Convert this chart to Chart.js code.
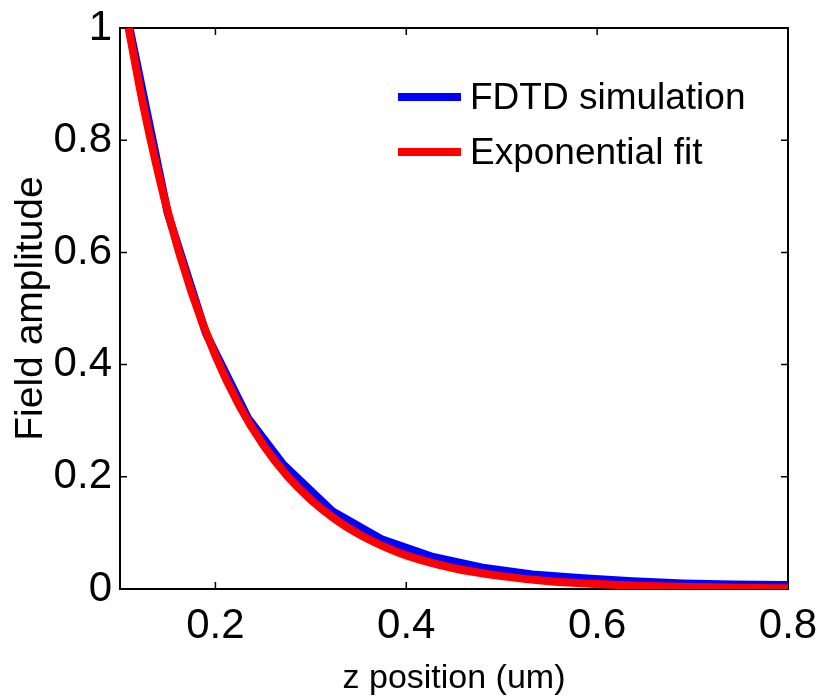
<!doctype html>
<html>
  <head>
    <script src="https://cdn.jsdelivr.net/npm/chart.js"></script>
    <style>
      body { margin: 0; background: white; }
      canvas { display: block; }
    </style>
    <title>Field amplitude</title>
  </head>
  <body>
    <canvas id="drawhere" width="823" height="699"></canvas>
    <script>
      // FDTD simulation (blue)
      var simx = [0.110, 0.150, 0.190, 0.234, 0.271, 0.323, 0.375, 0.428, 0.480, 0.532, 0.585, 0.637, 0.690, 0.742, 0.794, 0.800];
      var simy = [1.000, 0.670, 0.456, 0.305, 0.222, 0.138, 0.088, 0.057, 0.038, 0.026, 0.019, 0.014, 0.010, 0.008, 0.007, 0.007];
      // exponential fit (red)
      var fitx = [0.109, 0.125, 0.150, 0.175, 0.200, 0.225, 0.250, 0.275, 0.300, 0.325, 0.350, 0.375, 0.400, 0.450, 0.500, 0.550, 0.600, 0.650, 0.700, 0.750, 0.800];
      var fity = [1.000, 0.857, 0.673, 0.529, 0.416, 0.327, 0.257, 0.202, 0.159, 0.125, 0.098, 0.077, 0.060, 0.037, 0.023, 0.014, 0.0088, 0.0054, 0.0034, 0.0021, 0.0013];
      var xticks = [0.2, 0.4, 0.6, 0.8];
      var yticks = [0, 0.2, 0.4, 0.6, 0.8, 1];
      var labels = ['FDTD simulation', 'Exponential fit'];
      var colors = ['#0000ff', '#ff0000'];

      function pairs(xs, ys) {
        var out = [];
        for (var i = 0; i < xs.length; i++) out.push({x: xs[i], y: ys[i]});
        return out;
      }

      // box round the plot with inward ticks on all four sides
      var frame = {
        id: 'frame',
        beforeDatasetsDraw: function(chart) {
          var c = chart.ctx, a = chart.chartArea;
          var sx = chart.scales.x, sy = chart.scales.y;
          c.save();
          c.strokeStyle = '#000';
          c.lineWidth = 2;
          c.strokeRect(a.left, a.top, a.right - a.left, a.bottom - a.top);
          c.lineWidth = 1.5;
          c.beginPath();
          xticks.forEach(function(v) {
            var p = sx.getPixelForValue(v);
            c.moveTo(p, a.bottom); c.lineTo(p, a.bottom - 7);
            c.moveTo(p, a.top); c.lineTo(p, a.top + 7);
          });
          yticks.forEach(function(v) {
            var p = sy.getPixelForValue(v);
            c.moveTo(a.left, p); c.lineTo(a.left + 7, p);
            c.moveTo(a.right, p); c.lineTo(a.right - 7, p);
          });
          c.stroke();
          c.restore();
        }
      };

      var legendbox = {
        id: 'legendbox',
        afterDatasetsDraw: function(chart) {
          var c = chart.ctx;
          c.save();
          c.font = '37px "Liberation Sans", Arial, sans-serif';
          c.textBaseline = 'middle';
          c.fillStyle = '#000';
          for (var i = 0; i < labels.length; i++) {
            var y = 97 + i * 55;
            c.strokeStyle = colors[i];
            c.lineWidth = 8;
            c.beginPath();
            c.moveTo(398, y); c.lineTo(461, y);
            c.stroke();
            c.fillText(labels[i], 470, y + 2);
          }
          c.restore();
        }
      };

      var thechart = new Chart(drawhere, {
        type: 'line',
        data: {
          datasets: [
            {label: labels[0], data: pairs(simx, simy), borderColor: colors[0], borderWidth: 8,
             pointRadius: 0, tension: 0, clip: 0, order: 2},
            {label: labels[1], data: pairs(fitx, fity), borderColor: colors[1], borderWidth: 8,
             pointRadius: 0, cubicInterpolationMode: 'monotone', clip: 0, order: 1}
          ]
        },
        options: {
          responsive: false,
          animation: false,
          devicePixelRatio: 1,
          layout: {padding: {top: 28, right: 35, left: 0, bottom: 0}},
          plugins: {legend: {display: false}, tooltip: {enabled: false}},
          scales: {
            x: {
              type: 'linear', min: 0.1, max: 0.8,
              grid: {display: false, drawTicks: false},
              border: {display: false},
              afterBuildTicks: function(s) { s.ticks = xticks.map(function(v) { return {value: v}; }); },
              afterFit: function(s) { s.height = 110; s.paddingLeft = 0; s.paddingRight = 0; },
              ticks: {color: '#000', padding: 12, maxRotation: 0,
                      font: {family: '"Liberation Sans", Arial, sans-serif', size: 42},
                      callback: function(v) { return String(v); }},
              title: {display: true, text: 'z position (um)', color: '#000',
                      font: {family: '"Liberation Sans", Arial, sans-serif', size: 34},
                      padding: {top: 0, bottom: 0}}
            },
            y: {
              min: 0, max: 1,
              grid: {display: false, drawTicks: false},
              border: {display: false},
              afterBuildTicks: function(s) { s.ticks = yticks.map(function(v) { return {value: v}; }); },
              afterFit: function(s) { s.width = 120; s.paddingTop = 0; s.paddingBottom = 0; },
              ticks: {color: '#000', padding: 8,
                      font: {family: '"Liberation Sans", Arial, sans-serif', size: 42},
                      callback: function(v) { return String(v); }},
              title: {display: true, text: 'Field amplitude', color: '#000',
                      font: {family: '"Liberation Sans", Arial, sans-serif', size: 39},
                      padding: {top: 8, bottom: 0}}
            }
          }
        },
        plugins: [frame, legendbox]
      });
    </script>
  </body>
</html>
